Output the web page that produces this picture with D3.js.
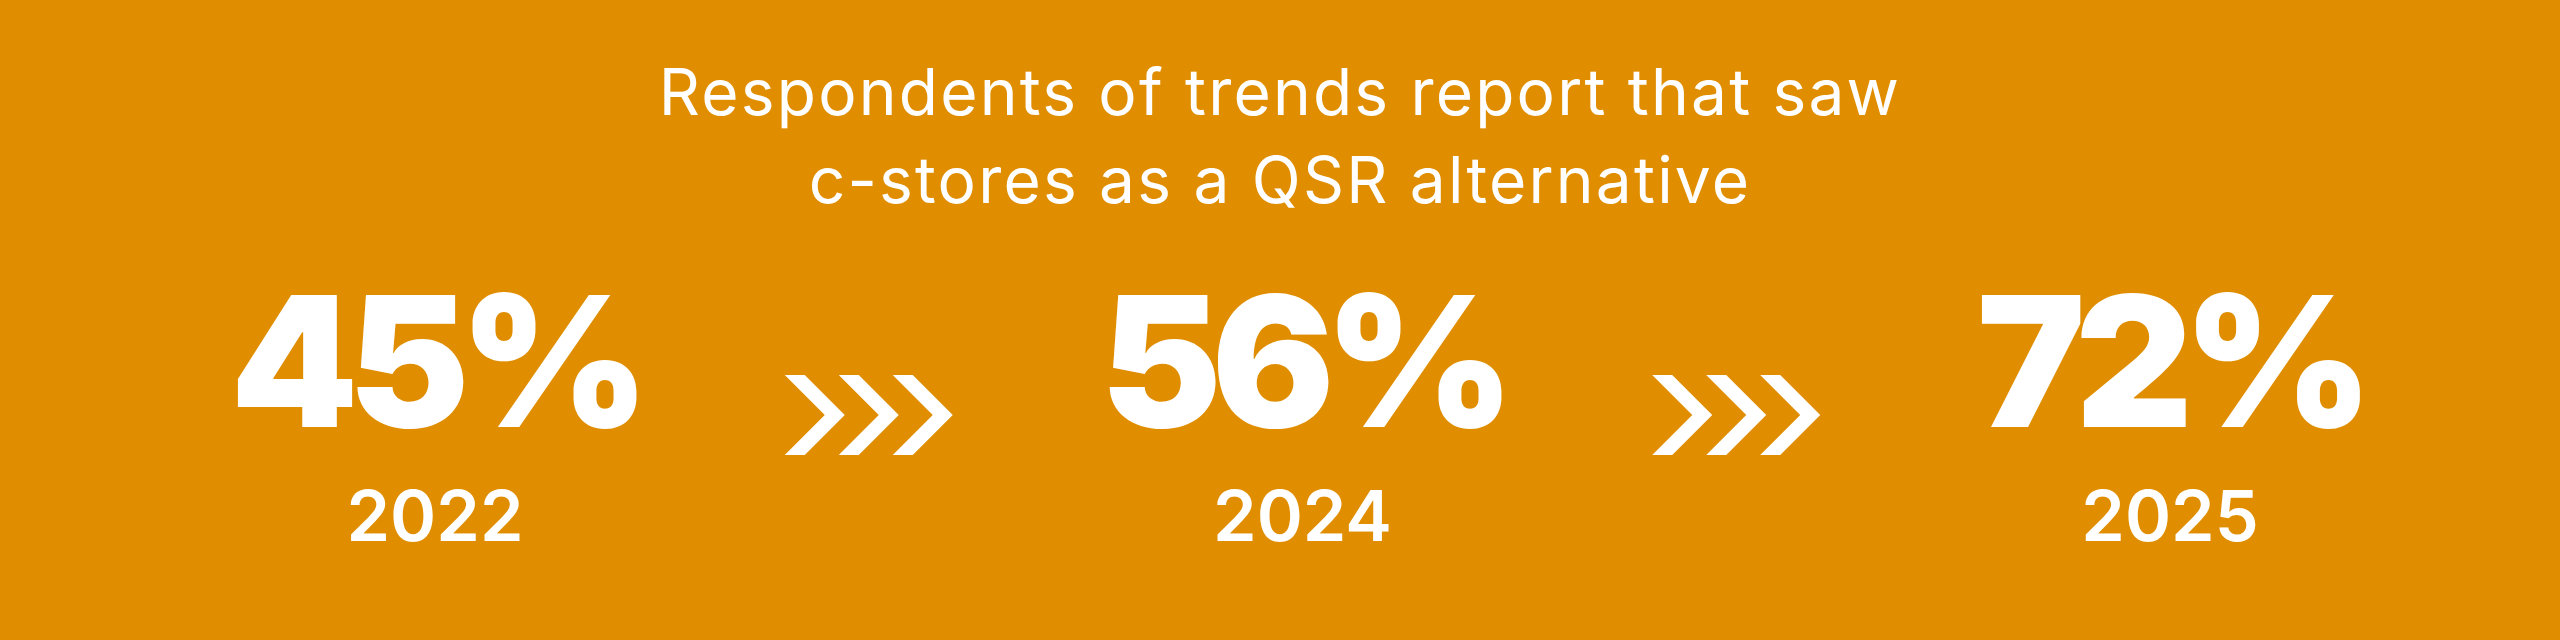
<!DOCTYPE html>
<html><head><meta charset="utf-8">
<script src="https://cdn.jsdelivr.net/npm/d3@7"></script>
<style>body{margin:0;background:#E08E00}svg{display:block}</style>
</head><body>
<svg id="chart" width="2560" height="640"></svg>
<script>
// data
var titleLines = ["Respondents of trends report that saw", "c-stores as a QSR alternative"];
var years = ["2022", "2024", "2025"];
var shares = [45, 56, 72];

var width = 2560, height = 640;
var s = d3.select("#chart");
s.append("rect").attr("width", width).attr("height", height).attr("fill", "#E08E00");

s.selectAll("text.title").data(titleLines).enter().append("text")
	.attr("class", "title")
	.attr("x", width/2)
	.attr("y", function(d,i){ return 115 + i*88; })
	.attr("text-anchor", "middle")
	.attr("font-family", "Inter")
	.attr("font-size", 64)
	.attr("letter-spacing", 2.2)
	.attr("fill", "#fff")
	.text(function(d){ return d; });

var x = d3.scalePoint().domain(years).range([435, 2170]);

s.selectAll("text.pct").data(shares).enter().append("text")
	.attr("class", "pct")
	.attr("x", function(d,i){ return x(years[i]); })
	.attr("y", 427)
	.attr("text-anchor", "middle")
	.attr("font-family", "Inter")
	.attr("font-weight", 900)
	.attr("font-size", 182)
	.attr("letter-spacing", -10)
	.attr("fill", "#fff")
	.text(function(d){ return d + "%"; });

s.selectAll("text.year").data(years).enter().append("text")
	.attr("class", "year")
	.attr("x", function(d){ return x(d); })
	.attr("y", 541)
	.attr("text-anchor", "middle")
	.attr("font-family", "Inter")
	.attr("font-weight", 600)
	.attr("font-size", 70)
	.attr("fill", "#fff")
	.text(function(d){ return d; });

// chevron groups between years
var mids = d3.pairs(years).map(function(p){ return (x(p[0]) + x(p[1]))/2; });
var chev = "M0,0 L20,0 L60,40 L20,80 L0,80 L40,40 Z";
mids.forEach(function(m){
	[0,1,2].forEach(function(k){
		s.append("path")
			.attr("d", chev)
			.attr("transform", "translate(" + (m - 84 + k*54) + ",375)")
			.attr("fill", "#fff");
	});
});
</script>
</body></html>
